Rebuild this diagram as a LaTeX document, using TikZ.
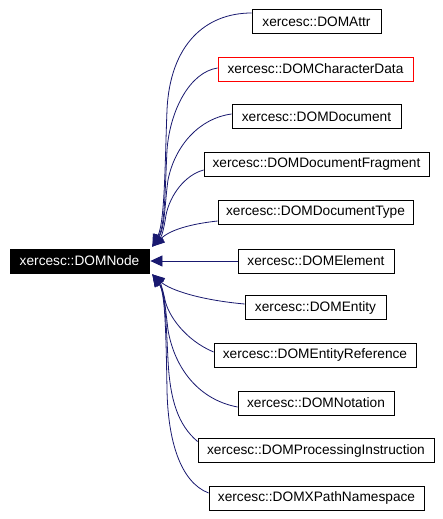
\documentclass[tikz,border=0pt]{standalone}
\usepackage{fontspec}
\setmainfont{Liberation Sans}
\usetikzlibrary{arrows.meta}
\definecolor{edgeblue}{RGB}{25,25,112}
\begin{document}
\begin{tikzpicture}[x=1pt,y=-1pt,
  cls/.style={draw=black, line width=0.8pt, minimum height=24pt, inner sep=0pt,
    font=\fontsize{13.7}{16}\selectfont, fill=white},
  edge/.style={draw=edgeblue, line width=0.8pt, -{Triangle[length=12pt,width=11pt]}}]
\useasboundingbox[fill=white] (0,0) rectangle (442,519);

\node[cls, fill=black, text=white, minimum width=139pt] (dn) at (79.5,261) {xercesc::DOMNode};
\node[cls, minimum width=129pt] (attr) at (316.5,21.5) {xercesc::DOMAttr};
\node[cls, draw=red, minimum width=195pt] (cd) at (315.5,69) {xercesc::DOMCharacterData};
\node[cls, minimum width=169pt] (doc) at (316.5,116.5) {xercesc::DOMDocument};
\node[cls, minimum width=225pt] (frag) at (316.5,164) {xercesc::DOMDocumentFragment};
\node[cls, minimum width=195pt] (type) at (315.5,212) {xercesc::DOMDocumentType};
\node[cls, minimum width=156pt] (el) at (316,261) {xercesc::DOMElement};
\node[cls, minimum width=141pt] (ent) at (315.5,307.5) {xercesc::DOMEntity};
\node[cls, minimum width=202pt] (eref) at (315,355) {xercesc::DOMEntityReference};
\node[cls, minimum width=156pt] (nota) at (316,403) {xercesc::DOMNotation};
\node[cls, minimum width=236pt] (pi) at (316,450.5) {xercesc::DOMProcessingInstruction};
\node[cls, minimum width=215pt] (xp) at (316.5,498) {xercesc::DOMXPathNamespace};

\coordinate (ut) at ([xshift=3pt,yshift=2pt]dn.north east);
\coordinate (lt) at ([xshift=3pt,yshift=-1pt]dn.south east);

\draw[edge] ([yshift=8.5pt]attr.west) .. controls (205,13) and (170,45) .. (167,110)
  .. controls (165,160) and (165,222) .. (ut);
\draw[edge] ([yshift=1pt]cd.west) .. controls (190,72) and (170,110) .. (167,150)
  .. controls (165,190) and (165,226) .. (ut);
\draw[edge] ([yshift=2.5pt]doc.west) .. controls (200,118) and (175,145) .. (168,180)
  .. controls (165,200) and (165,228) .. (ut);
\draw[edge] ([yshift=-6pt]frag.west) .. controls (185,175) and (170,195) .. (166,215)
  .. controls (164,228) and (162,236) .. (ut);
\draw[edge] ([yshift=-9pt]type.west) .. controls (190,224) and (170,230) .. (ut);
\draw[edge] (el.west) -- ([xshift=1pt]dn.east |- el.west);
\draw[edge] ([yshift=3.5pt]ent.west) .. controls (200,300) and (170,290) .. (lt);
\draw[edge] ([yshift=3pt]eref.west) .. controls (185,340) and (168,315) .. (165,300)
  .. controls (163,290) and (160,282) .. (lt);
\draw[edge] ([yshift=-4pt]nota.west) .. controls (200,400) and (175,370) .. (168,330)
  .. controls (165,305) and (164,290) .. (lt);
\draw[edge] ([yshift=9pt]pi.west) .. controls (178,425) and (170,400) .. (168,360)
  .. controls (166,320) and (165,292) .. (lt);
\draw[edge] ([yshift=5pt]xp.west) .. controls (180,482) and (168,440) .. (167,390)
  .. controls (166,330) and (165,292) .. (lt);
\end{tikzpicture}
\end{document}
